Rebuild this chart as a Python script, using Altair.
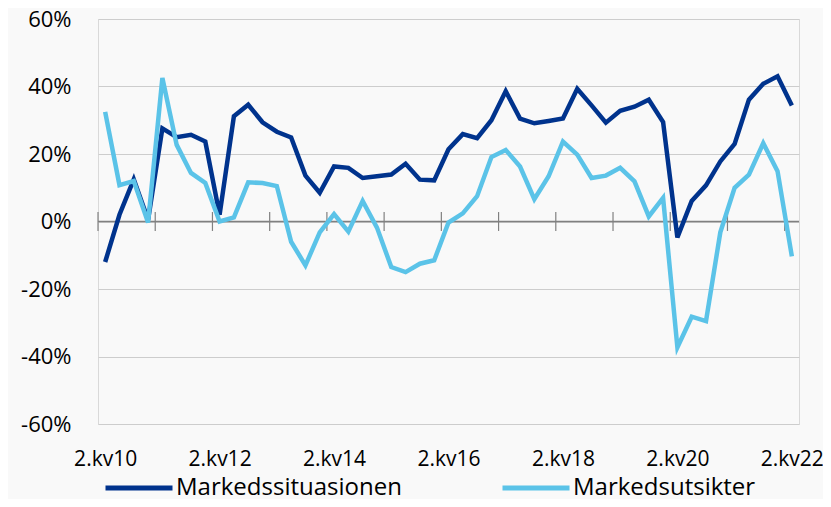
import json
import altair as alt
import pandas as pd

quarters = [
    "2.kv10", "3.kv10", "4.kv10", "1.kv11", "2.kv11", "3.kv11", "4.kv11",
    "1.kv12", "2.kv12", "3.kv12", "4.kv12", "1.kv13", "2.kv13", "3.kv13", "4.kv13",
    "1.kv14", "2.kv14", "3.kv14", "4.kv14", "1.kv15", "2.kv15", "3.kv15", "4.kv15",
    "1.kv16", "2.kv16", "3.kv16", "4.kv16", "1.kv17", "2.kv17", "3.kv17", "4.kv17",
    "1.kv18", "2.kv18", "3.kv18", "4.kv18", "1.kv19", "2.kv19", "3.kv19", "4.kv19",
    "1.kv20", "2.kv20", "3.kv20", "4.kv20", "1.kv21", "2.kv21", "3.kv21", "4.kv21",
    "1.kv22", "2.kv22",
]

markedssituasionen = [
    -12, 2, 12.5, 0.5, 27.6, 25, 25.7, 23.7,
    2, 31.2, 34.6, 29.4, 26.6, 24.9, 13.6, 8.5,
    16.3, 15.9, 12.9, 13.4, 13.9, 17.1, 12.4, 12.2,
    21.4, 25.9, 24.7, 30, 38.6, 30.5, 29.1, 29.8,
    30.5, 39.3, 34.4, 29.3, 32.8, 34, 36.1, 29.5,
    -4.7, 6.1, 10.7, 17.8, 23, 36.1, 40.8, 43, 34.4,
]

markedsutsikter = [
    32.5, 10.8, 12, -0.3, 42.5, 22.7, 14.4, 11.4,
    0, 1.2, 11.6, 11.4, 10.5, -6, -13, -3.2,
    2.2, -3, 6.1, -1.8, -13.5, -15, -12.5, -11.5,
    -0.3, 2.4, 7.5, 19.1, 21.2, 16.3, 6.6, 13.4,
    23.7, 19.8, 12.9, 13.6, 15.9, 11.9, 1.5, 7,
    -37.3, -28.2, -29.5, -3.2, 10, 13.9, 23.2, 14.9, -10.3,
]

series_names = ["Markedssituasionen", "Markedsutsikter"]
series_colors = ["#00338D", "#5BC3E8"]

y_ticks = [-60, -40, -20, 0, 20, 40, 60]
x_label_idx = [0, 8, 16, 24, 32, 40, 48]
tick_marks = [-0.5, 3.5, 7.5, 11.5, 15.5, 19.5, 23.5, 27.5, 31.5, 35.5, 39.5, 43.5, 47.5]

rows = []
for name, vals in zip(series_names, [markedssituasionen, markedsutsikter]):
    for i, v in enumerate(vals):
        rows.append({"idx": i, "quarter": quarters[i], "series": name, "value": v})
df = pd.DataFrame(rows)

FONT = "Open Sans"
x_scale = alt.Scale(domain=[-0.5, 48.5], nice=False, zero=False)
y_scale = alt.Scale(domain=[-60, 60], nice=False, zero=False)

x_axis = alt.Axis(
    values=x_label_idx,
    labelExpr=json.dumps(quarters) + "[datum.value]",
    ticks=False, domain=False, grid=False, title=None,
    labelFontSize=21, labelFont=FONT, labelColor="#000000",
    labelPadding=24, labelFlush=False, labelOverlap=False)
y_axis = alt.Axis(
    values=y_ticks, labelExpr="datum.value + '%'",
    ticks=False, domain=False, grid=True, gridColor="#cdcdcd", gridWidth=1,
    title=None, labelFontSize=22, labelFont=FONT, labelColor="#000000",
    labelPadding=27)

zero_line = alt.Chart(pd.DataFrame({"v": [0]})).mark_rule(
    color="#808080", strokeWidth=1.5
).encode(
    y=alt.Y("v:Q", scale=y_scale, axis=y_axis),
)

ticks = alt.Chart(pd.DataFrame({"t": tick_marks, "lo": [-2.8] * len(tick_marks), "hi": [2.8] * len(tick_marks)})).mark_rule(
    color="#808080", strokeWidth=1.2
).encode(
    x=alt.X("t:Q", scale=x_scale, axis=x_axis),
    y=alt.Y("lo:Q", scale=y_scale, axis=y_axis),
    y2="hi:Q",
)

lines = alt.Chart(df).mark_line(strokeWidth=4.5, strokeJoin="miter").encode(
    x=alt.X("idx:Q", scale=x_scale, axis=x_axis),
    y=alt.Y("value:Q", scale=y_scale, axis=y_axis),
    color=alt.Color("series:N", scale=alt.Scale(domain=series_names, range=series_colors),
        legend=alt.Legend(
            orient="none", legendX=5, legendY=433, direction="horizontal",
            title=None, symbolType="stroke", symbolSize=4489, symbolStrokeWidth=5,
            labelFontSize=24, labelFont=FONT, labelColor="#000000",
            labelOffset=1, columnPadding=90, labelLimit=500)),
    order=alt.Order("idx:Q"),
)

chart = alt.layer(zero_line, ticks, lines).properties(
    width=701, height=405,
    padding={"left": 90, "top": 11, "right": 24, "bottom": 75},
    autosize=alt.AutoSizeParams(type="none"),
    background="#f9f9f9",
).configure_view(stroke="#d9d9d9", strokeWidth=1)

chart.save("out.html", embed_options={"renderer": "svg", "actions": False})
